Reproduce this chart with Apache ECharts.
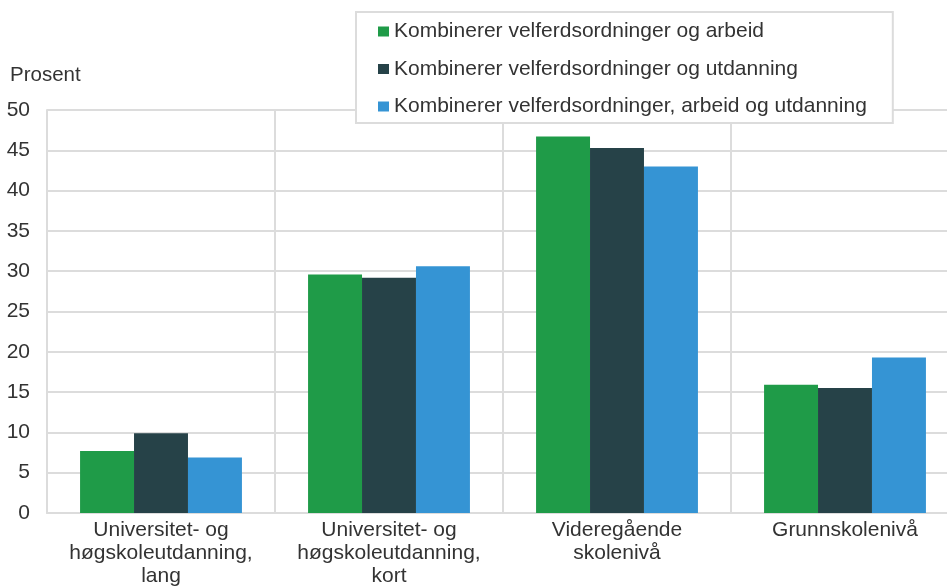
<!DOCTYPE html>
<html>
<head>
<meta charset="utf-8">
<script src="https://cdn.jsdelivr.net/npm/echarts@6/dist/echarts.min.js"></script>
<style>
  html, body { margin: 0; padding: 0; background: #fff; }
  #chart { width: 947px; height: 587px; }
</style>
</head>
<body>
<div id="chart"></div>
<script>
// utdanningsnivå
const categories = [
  'Universitet- og\nhøgskoleutdanning,\nlang',
  'Universitet- og\nhøgskoleutdanning,\nkort',
  'Videregående\nskolenivå',
  'Grunnskolenivå'
]
const seriesNames = [
  'Kombinerer velferdsordninger og arbeid',
  'Kombinerer velferdsordninger og utdanning',
  'Kombinerer velferdsordninger, arbeid og utdanning'
]
const arbeid = [7.7, 29.6, 46.7, 15.9]
const utdanning = [9.9, 29.2, 45.3, 15.5]
const arbeidOgUtdanning = [6.9, 30.6, 43.0, 19.3]
const yTicks = [0, 5, 10, 15, 20, 25, 30, 35, 40, 45, 50]

const colors = ['#1f9b48', '#264248', '#3594d4']
const gridColor = '#dcdcdc'
const fontFamily = '"Liberation Sans", Arial, sans-serif'

const chart = echarts.init(document.getElementById('chart'))
chart.setOption({
  animation: false,
  color: colors,
  textStyle: { fontFamily: fontFamily },
  title: {
    text: 'Prosent',
    left: 10,
    top: 65,
    padding: 0,
    textStyle: { fontSize: 20.5, fontWeight: 'normal', color: '#333', fontFamily: fontFamily }
  },
  legend: {
    orient: 'vertical',
    left: 356,
    top: 12,
    padding: [8, 26, 5, 22],
    itemGap: 14.5,
    itemWidth: 11,
    itemHeight: 10,
    icon: 'rect',
    borderColor: gridColor,
    borderWidth: 2,
    backgroundColor: '#fff',
    textStyle: { fontSize: 21, color: '#333', lineHeight: 23 },
    data: seriesNames
  },
  grid: {
    left: 47,
    width: 912,
    top: 110,
    bottom: 74,
    outerBoundsMode: 'none',
    containLabel: false
  },
  xAxis: {
    type: 'category',
    data: categories,
    axisTick: { show: false },
    axisLine: { lineStyle: { color: gridColor, width: 2 } },
    splitLine: { show: true, lineStyle: { color: gridColor, width: 2 } },
    axisLabel: {
      interval: 0,
      margin: 6,
      fontSize: 21,
      lineHeight: 23,
      color: '#333'
    }
  },
  yAxis: {
    type: 'value',
    min: yTicks[0],
    max: yTicks[yTicks.length - 1],
    interval: 5,
    axisLine: { show: true, lineStyle: { color: gridColor, width: 2 } },
    axisTick: { show: false },
    splitLine: { lineStyle: { color: gridColor, width: 2 } },
    axisLabel: { fontSize: 21, color: '#333', margin: 17 }
  },
  series: [
    { name: seriesNames[0], type: 'bar', data: arbeid, barGap: '0%', barCategoryGap: '29%' },
    { name: seriesNames[1], type: 'bar', data: utdanning, barGap: '0%', barCategoryGap: '29%' },
    { name: seriesNames[2], type: 'bar', data: arbeidOgUtdanning, barGap: '0%', barCategoryGap: '29%' }
  ]
})
</script>
</body>
</html>
